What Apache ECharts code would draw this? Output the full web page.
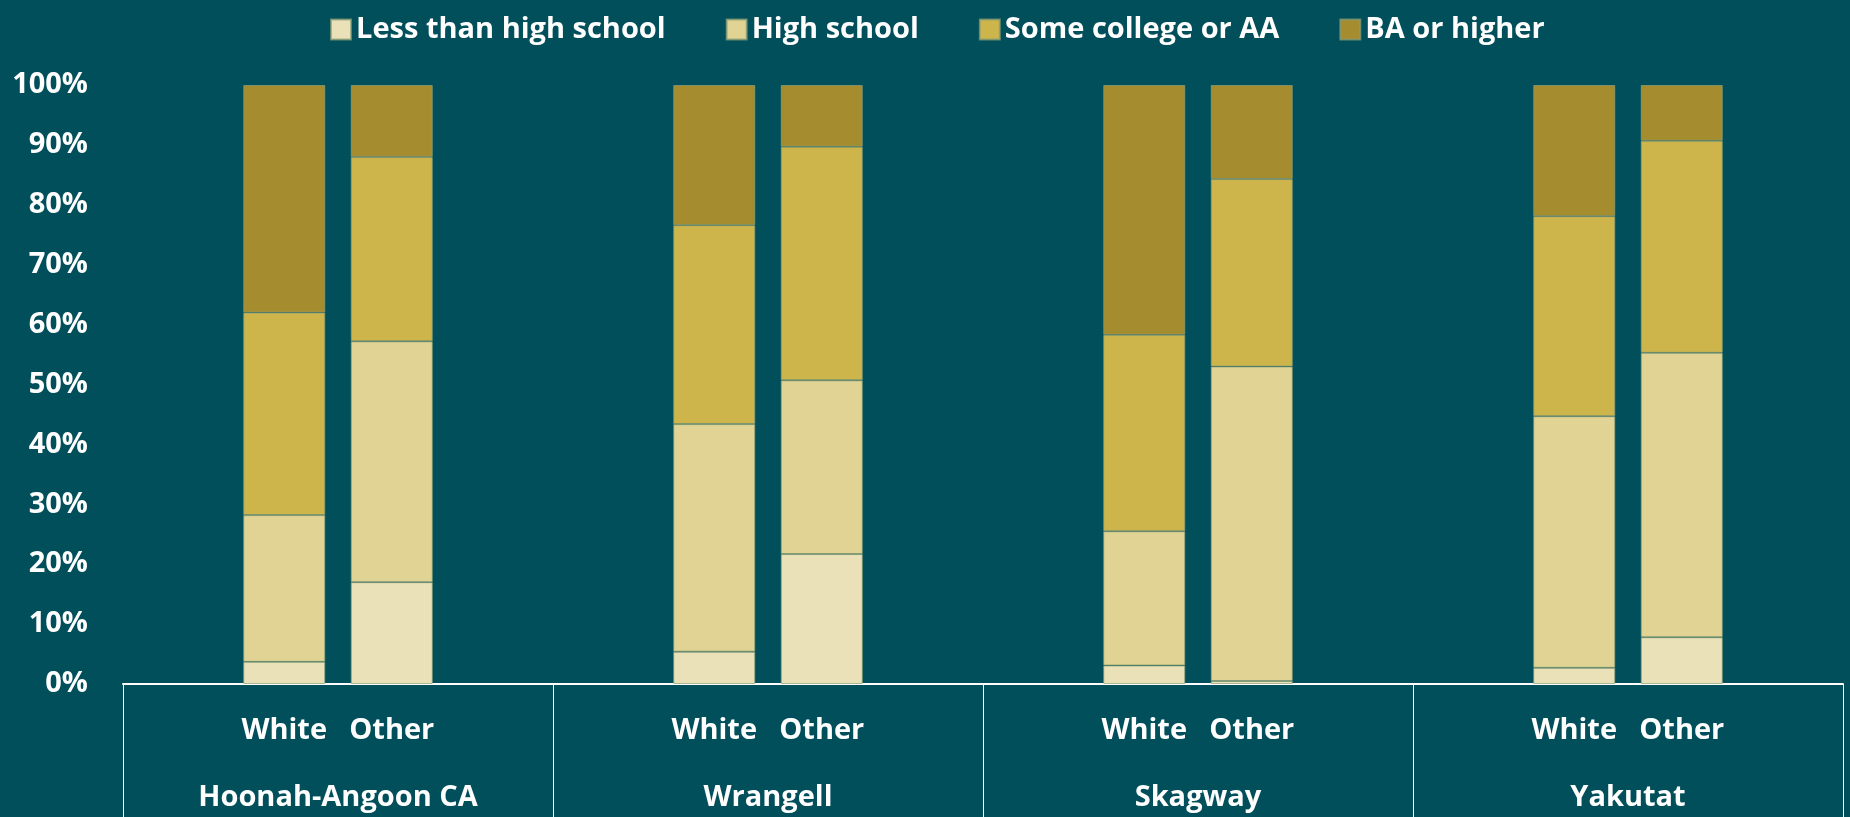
<!DOCTYPE html>
<html>
<head>
<meta charset="utf-8">
<style>
  html, body { margin: 0; padding: 0; background: #014F5A; }
  #chart { width: 1850px; height: 817px; }
</style>
<script src="https://cdn.jsdelivr.net/npm/echarts@6/dist/echarts.min.js"></script>
</head>
<body>
<div id="chart"></div>
<script>
// ---- Data ----
const groups = ['Hoonah-Angoon CA', 'Wrangell', 'Skagway', 'Yakutat'];
const subCats = ['White', 'Other'];
const seriesNames = ['Less than high school', 'High school', 'Some college or AA', 'BA or higher'];
// values in % for: Hoonah White, Hoonah Other, Wrangell White, Wrangell Other, Skagway White, Skagway Other, Yakutat White, Yakutat Other
const lessThanHS   = [3.7, 17.0, 5.4, 21.7, 3.1, 0.5, 2.7, 7.8];
const highSchool   = [24.5, 40.2, 38.0, 29.0, 22.4, 52.5, 42.0, 47.5];
const someCollege  = [33.8, 30.8, 33.2, 39.0, 32.8, 31.3, 33.4, 35.4];
const baOrHigher   = [38.0, 12.0, 23.4, 10.3, 41.7, 15.7, 21.9, 9.3];
const yTicks = [0, 10, 20, 30, 40, 50, 60, 70, 80, 90, 100];

const colors = ['#EAE1B8', '#E0D394', '#CDB44B', '#A58C2E'];

// Build slotted categories: each group has blank, White, Other, blank
const cats = [];
groups.forEach(() => { cats.push(''); subCats.forEach(s => cats.push(s)); cats.push(''); });
function slot(values) {
  const out = [];
  for (let g = 0; g < groups.length; g++) {
    out.push('-');
    out.push(values[g * 2]);
    out.push(values[g * 2 + 1]);
    out.push('-');
  }
  return out;
}
const allValues = [lessThanHS, highSchool, someCollege, baOrHigher];

const font = 'Open Sans';
const fs = 29;
const chart = echarts.init(document.getElementById('chart'));
chart.setOption({
  backgroundColor: '#014F5A',
  animation: false,
  textStyle: { fontFamily: font },
  legend: {
    top: 10,
    left: 325,
    itemWidth: 20,
    itemHeight: 20,
    itemGap: 60,
    icon: 'rect',
    textStyle: { color: '#fff', fontSize: fs, fontWeight: 'bold', fontFamily: font },
    data: seriesNames
  },
  grid: { left: 123, right: 7, top: 85, bottom: 133, containLabel: false },
  xAxis: [
    {
      type: 'category',
      data: cats,
      position: 'bottom',
      axisLine: { show: true, lineStyle: { color: '#ffffff', width: 2 } },
      axisTick: { show: false },
      axisLabel: { color: '#fff', fontSize: fs, fontWeight: 'bold', fontFamily: font, margin: 32, interval: 0 }
    },
    {
      type: 'category',
      data: groups,
      position: 'bottom',
      offset: 0,
      axisLine: { show: false },
      axisTick: { show: true, length: 134, lineStyle: { color: '#ffffff', width: 1 } },
      axisLabel: { color: '#fff', fontSize: fs, fontWeight: 'bold', fontFamily: font, margin: 99, interval: 0 }
    }
  ],
  yAxis: {
    type: 'value',
    min: 0, max: 100, interval: 10,
    axisLine: { show: false },
    axisTick: { show: false },
    splitLine: { show: false },
    axisLabel: {
      color: '#fff', fontSize: fs, fontWeight: 'bold', fontFamily: font, margin: 35,
      formatter: v => (yTicks.indexOf(v) >= 0 ? v + '%' : '')
    }
  },
  series: seriesNames.map((name, i) => ({
    name: name,
    type: 'bar',
    stack: 'total',
    xAxisIndex: 0,
    barWidth: 82,
    itemStyle: { color: colors[i], borderColor: 'rgba(140,160,120,0.7)', borderWidth: 1 },
    data: slot(allValues[i])
  }))
});
</script>
</body>
</html>
